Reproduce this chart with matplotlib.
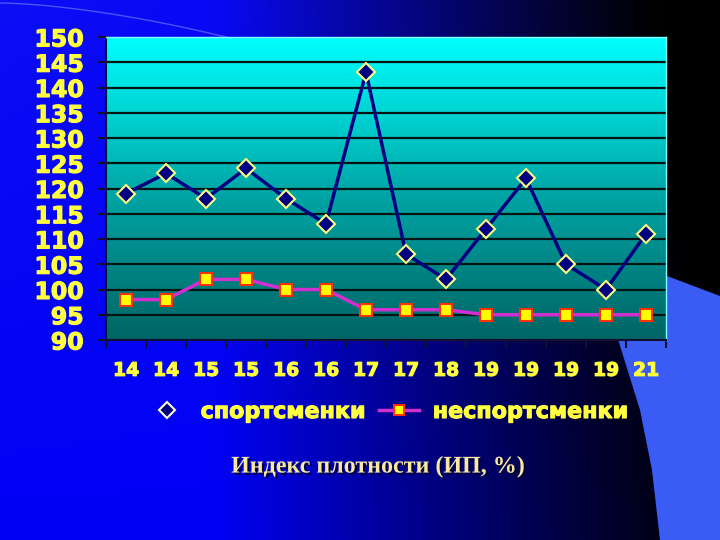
import numpy as np
import matplotlib
matplotlib.use('Agg')
import matplotlib.pyplot as plt
from matplotlib.colors import LinearSegmentedColormap
from matplotlib.lines import Line2D
from matplotlib.patches import Polygon
import matplotlib.patheffects as pe

# data
ages = ['14', '14', '15', '15', '16', '16', '17', '17', '18', '19', '19', '19', '19', '21']
sport = [119, 123, 118, 124, 118, 113, 143, 107, 102, 112, 122, 105, 100, 111]
nonsport = [98, 98, 102, 102, 100, 100, 96, 96, 96, 95, 95, 95, 95, 95]
yticks = list(range(90, 151, 5))

YELLOW = '#ffff40'
heavy = [pe.withStroke(linewidth=0.8, foreground=YELLOW)]

W, H = 720, 540
fig = plt.figure(figsize=(W / 100, H / 100), dpi=100)

# slide background: bright blue on the left, fading to near black on the right
bg = fig.add_axes([0, 0, 1, 1], zorder=0)
u = np.linspace(0, 1, 360)[None, :]
v = np.linspace(0, 1, 270)[:, None]
a, b = 0.30, 0.92 + 0.08 * v
frac = np.clip((u - a) / (b - a), 0, 1)
blue = 245 * (1 - frac) ** 1.1
img = np.zeros((270, 360, 3))
img[..., 2] = blue / 255
img[..., 0] = 0.05 * (1 - u) * (1 - v)
img[..., 1] = 0.05 * (1 - u) * (1 - v)
bg.imshow(img, extent=[0, W, H, 0], aspect='auto')
# light blue shape lower right and faint arc top left
shape = [(598, 250), (720, 296), (720, 540), (660, 540), (652, 470),
         (640, 410), (626, 365), (612, 320), (602, 280)]
bg.add_patch(Polygon(shape, closed=True, color='#3a5cf5', lw=0))
t = np.linspace(0, 1, 50)
bg.plot(250 * t, 3 + 40 * t ** 1.6, color='#8f9cff', lw=1, alpha=0.5)
bg.set_xlim(0, W)
bg.set_ylim(H, 0)
bg.axis('off')

# chart
ax = fig.add_axes([106 / W, 1 - 340 / H, 560 / W, 303 / H], zorder=1)
x = np.arange(len(ages))
cmap = LinearSegmentedColormap.from_list('plot', ['#006464', '#00a8a8', '#00ffff'])
ax.imshow(np.linspace(0, 1, 256)[:, None], cmap=cmap, origin='lower',
          extent=[-0.5, len(ages) - 0.5, 90, 150], aspect='auto', zorder=0)

for yv in yticks[1:-1]:
    ax.axhline(yv, color='#061414', lw=1.6, zorder=1)

ax.plot(x, sport, color='#000080', lw=2.5, marker='D', ms=9,
        mfc='#000080', mec='#ffff80', mew=1.5, zorder=3)
ax.plot(x, nonsport, color='#d030d0', lw=2.5, marker='s', ms=8,
        mfc='#ffff00', mec='#ff3000', mew=1.5, zorder=3)

ax.set_xlim(-0.5, len(ages) - 0.5)
ax.set_ylim(90, 150)
ax.set_yticks(yticks)
ax.set_yticklabels([str(t) for t in yticks], fontsize=17, fontweight='bold',
                   color=YELLOW, family='DejaVu Sans', path_effects=heavy)
ax.set_xticks(np.arange(len(ages) + 1) - 0.5)
ax.set_xticklabels([])
ax.set_xticks(x, minor=True)
ax.set_xticklabels(ages, minor=True, fontsize=13.5, fontweight='bold',
                   color=YELLOW, family='DejaVu Sans', path_effects=heavy)
ax.tick_params(axis='x', which='minor', length=0, pad=15)
ax.tick_params(axis='x', which='major', length=6, width=1.5, color='#101030')
ax.tick_params(axis='y', length=6, width=1.5, color='#101030', pad=10)
for s in ['top', 'right']:
    ax.spines[s].set_color('#80ffff')
    ax.spines[s].set_linewidth(1)
for s in ['left', 'bottom']:
    ax.spines[s].set_color('#101030')
    ax.spines[s].set_linewidth(1.5)

handles = [
    Line2D([], [], ls='none', marker='D', ms=8, mfc='#000080', mec='#ffffcc', mew=1.5),
    Line2D([], [], color='#d030d0', lw=2.5, marker='s', ms=7, mfc='#ffff00', mec='#ff3000', mew=1.5),
]
leg = fig.legend(handles, ['спортсменки', 'неспортсменки'], loc='center',
                 bbox_to_anchor=(388 / W, 1 - 412 / H), ncol=2, frameon=False,
                 prop={'family': 'DejaVu Sans', 'weight': 'bold', 'size': 16},
                 labelcolor=YELLOW, handlelength=1.8, handletextpad=0.6, columnspacing=0.6)
for txt in leg.get_texts():
    txt.set_path_effects(heavy)

fig.text(378 / W, 1 - 467 / H, 'Индекс плотности (ИП, %)', ha='center', va='center',
         family='Liberation Serif', fontweight='bold', fontsize=17.3, color='#f8e8a0',
         path_effects=[pe.withSimplePatchShadow(offset=(1.5, -1.5), shadow_rgbFace='#000030', alpha=0.9)])

fig.savefig('out.png', dpi=100)
